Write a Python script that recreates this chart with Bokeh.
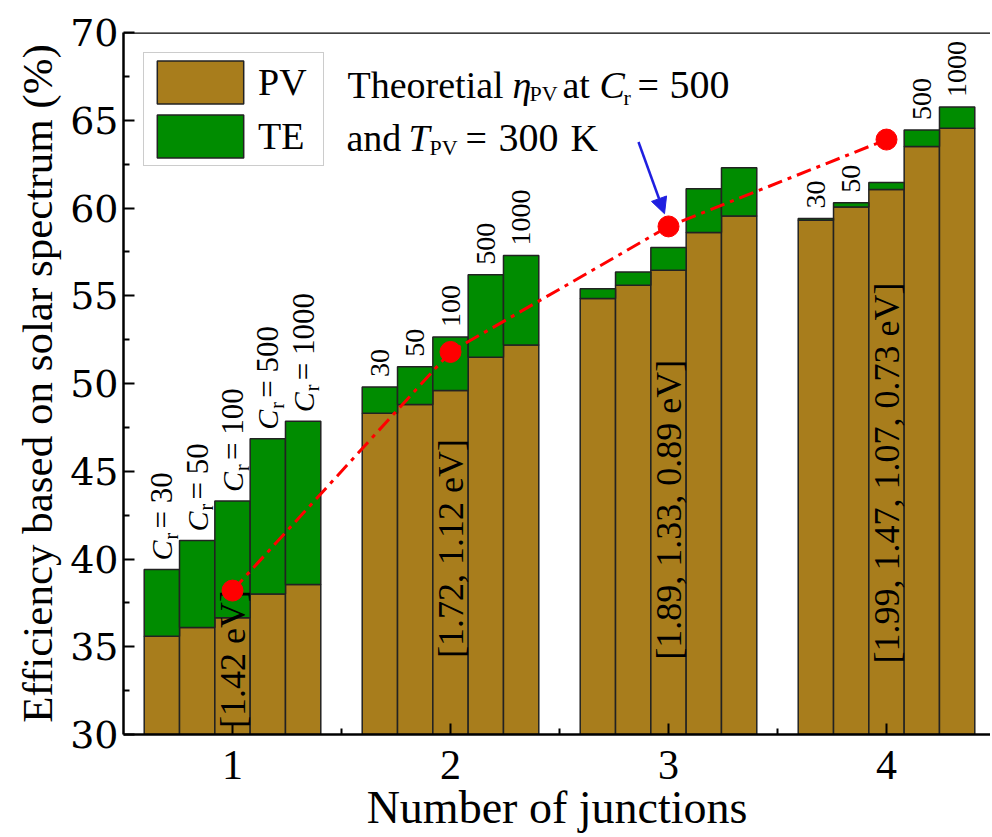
import numpy as np
from bokeh.plotting import figure
from bokeh.models import (FixedTicker, Legend, LegendItem, Label, Arrow, NormalHead,
                          Span, ColumnDataSource, Range1d)
from bokeh.core.properties import value
from bokeh.embed import file_html
from bokeh.resources import INLINE

# ---------------- data ----------------
junctions = [1, 2, 3, 4]
cr_values = ["30", "50", "100", "500", "1000"]
pv_eff = [
    [35.6, 36.1, 36.65, 38.0, 38.55],
    [48.3, 48.8, 49.6, 51.5, 52.2],
    [54.85, 55.6, 56.45, 58.6, 59.55],
    [59.3, 60.05, 61.05, 63.5, 64.55],
]
te_eff = [
    [3.8, 4.95, 6.65, 8.85, 9.3],
    [1.5, 2.15, 3.05, 4.7, 5.1],
    [0.55, 0.75, 1.3, 2.5, 2.75],
    [0.1, 0.25, 0.4, 0.95, 1.2],
]
# which C_r labels are printed above the bars in each group
label_shown = [
    [1, 1, 1, 1, 1],
    [1, 1, 1, 1, 1],
    [0, 0, 0, 0, 0],
    [1, 1, 0, 1, 1],
]
theory_pv = [38.2, 51.8, 58.95, 63.9]
bandgaps = ["[1.42 eV]", "[1.72, 1.12 eV]", "[1.89, 1.33, 0.89 eV]",
            "[1.99, 1.47, 1.07, 0.73 eV]"]
y_ticks = [30, 35, 40, 45, 50, 55, 60, 65, 70]
y_minor = [32.5, 37.5, 42.5, 47.5, 52.5, 57.5, 62.5, 67.5]
x_ticks = [1, 2, 3, 4]
x_minor = [1.5, 2.5, 3.5]

# ---------------- layout constants ----------------
W, H = 990, 835
B_L, B_R, B_T = 123, 0, 32
B_B = H - 737
X0 = 0.5
X1 = 0.5 + (W - B_L - B_R) / 218.0
Y0, Y1 = 30, 70
BAR_W = 0.162
PV_COLOR = "#A87D1C"
TE_COLOR = "#008C00"
SERIF = "Liberation Serif"
gap_label_y = [34.3, 40.6, 42.8, 44.9]   # vertical centres of band-gap labels

FW = W - B_L - B_R
FH = H - B_T - B_B


def dx(px):  # page pixel -> data x
    return X0 + (px - B_L) * (X1 - X0) / FW


def dy(py):  # page pixel -> data y
    return Y0 + (B_T + FH - py) * (Y1 - Y0) / FH


p = figure(width=W, height=H, output_backend="svg", toolbar_location=None,
           x_range=Range1d(X0, X1), y_range=Range1d(Y0, Y1),
           min_border_left=B_L, min_border_right=B_R,
           min_border_top=B_T, min_border_bottom=B_B)
p.outline_line_color = None
p.xgrid.grid_line_color = None
p.ygrid.grid_line_color = None
p.background_fill_color = "white"

# bars
xs, pvs, tes, tops, labs, show = [], [], [], [], [], []
for gi, g in enumerate(junctions):
    for k in range(5):
        xs.append(g + (k - 2) * BAR_W)
        pvs.append(pv_eff[gi][k])
        tes.append(te_eff[gi][k])
        tops.append(pv_eff[gi][k] + te_eff[gi][k])
        labs.append(cr_values[k])
        show.append(label_shown[gi][k])
src = ColumnDataSource(dict(x=xs, pv=pvs, te=tes))
rs = p.vbar_stack(["pv", "te"], x="x", width=BAR_W, source=src,
                  fill_color=[PV_COLOR, TE_COLOR], line_color="#222222",
                  line_width=1.5)

# C_r labels on first group, plain numbers on the others
n1 = 5
src1 = ColumnDataSource(dict(x=xs[:n1], top=tops[:n1],
                             eq=["= " + s for s in labs[:n1]]))
idx = [i for i in range(n1, len(xs)) if show[i]]
srcN = ColumnDataSource(dict(x=[xs[i] for i in idx], top=[tops[i] for i in idx],
                             lab=[labs[i] for i in idx]))
common = dict(angle=np.pi / 2, text_align="left", text_baseline="middle",
              text_font=value(SERIF), text_color="black")
p.text(x="x", y="top", text=value("C"), y_offset=-9, text_font_size="30px",
       text_font_style="italic", source=src1, **common)
p.text(x="x", y="top", text=value("r"), y_offset=-30, x_offset=9,
       text_font_size="20px", source=src1, **common)
p.text(x="x", y="top", text="eq", y_offset=-41, text_font_size="31px",
       source=src1, **common)
p.text(x="x", y="top", text="lab", y_offset=-10, text_font_size="28px",
       source=srcN, **common)

# band gap labels
p.text(x=junctions, y=gap_label_y, text=bandgaps, angle=np.pi / 2,
       text_align="center", text_baseline="middle", text_font=value(SERIF),
       text_font_size="36px", text_color="black")

# theoretical line & dots
p.line(junctions, theory_pv, line_color="#FF0000", line_width=3,
       line_dash="15 6 4 6")
p.scatter(junctions, theory_pv, size=21, fill_color="#FF0000",
          line_color="#FF0000")

# top border
p.add_layout(Span(location=Y1, dimension="width", line_color="black",
                  line_width=2.5))


# annotation text
def lab(txt, px, py, size, style="normal"):
    p.add_layout(Label(x=dx(px), y=dy(py), text=txt, text_font=SERIF,
                       text_font_size=size, text_font_style=style,
                       text_align="left", text_baseline="alphabetic",
                       text_color="black"))


lab("Theoretial", 347, 85, "38px")
lab("η", 512, 85, "38px", "italic")
lab("PV", 529, 93, "22px")
lab("at", 562, 85, "38px")
lab("C", 599, 85, "38px", "italic")
lab("r", 623, 97, "22px")
lab("=", 637, 85, "38px")
lab("500", 669, 85, "40px")
lab("and", 346, 138, "38px")
lab("T", 408, 138, "38px", "italic")
lab("PV", 429, 147, "22px")
lab("=", 465, 138, "38px")
lab("300", 498, 138, "40px")
lab("K", 570, 138, "38px")

p.add_layout(Arrow(x_start=dx(638), y_start=dy(142), x_end=dx(664), y_end=dy(214),
                   line_color="#1F1FE0", line_width=2.5,
                   end=NormalHead(size=16, fill_color="#1F1FE0",
                                  line_color="#1F1FE0")))

# legend
legend = Legend(items=[LegendItem(label="PV", renderers=[rs[0]]),
                       LegendItem(label="TE", renderers=[rs[1]])],
                location="top_left", margin=20, padding=2, spacing=0,
                glyph_width=108, glyph_height=54, label_standoff=4,
                label_width=63, label_text_font=SERIF,
                label_text_font_size="38px", label_text_color="black",
                border_line_color="#999999",
                border_line_width=1.5, background_fill_alpha=1)
p.add_layout(legend)

# axes
for ax in (p.xaxis, p.yaxis):
    ax.axis_line_width = 2.5
    ax.axis_line_color = "black"
    ax.major_tick_in = 11
    ax.major_tick_out = 0
    ax.minor_tick_in = 6
    ax.minor_tick_out = 0
    ax.major_tick_line_width = 2
    ax.minor_tick_line_width = 2
    ax.major_tick_line_color = "black"
    ax.minor_tick_line_color = "black"
    ax.axis_label_text_font = SERIF
    ax.axis_label_text_font_style = "normal"
    ax.axis_label_text_color = "black"
    ax.major_label_text_color = "black"

p.yaxis.ticker = FixedTicker(ticks=y_ticks, minor_ticks=y_minor)
p.yaxis.major_label_text_font = "DejaVu Serif"
p.yaxis.major_label_text_font_size = "38px"
p.yaxis.major_label_standoff = 5
p.yaxis.axis_label = "Efficiency based on solar spectrum (%)"
p.yaxis.axis_label_text_font_size = "43px"
p.yaxis.axis_label_standoff = 6

p.xaxis.ticker = FixedTicker(ticks=x_ticks, minor_ticks=x_minor)
p.xaxis.major_label_text_font = SERIF
p.xaxis.major_label_text_font_size = "42px"
p.xaxis.major_label_standoff = 16
p.xaxis.axis_label = "Number of junctions"
p.xaxis.axis_label_text_font_size = "46px"
p.xaxis.axis_label_standoff = 0

open("out.html", "w").write(file_html(p, INLINE))
